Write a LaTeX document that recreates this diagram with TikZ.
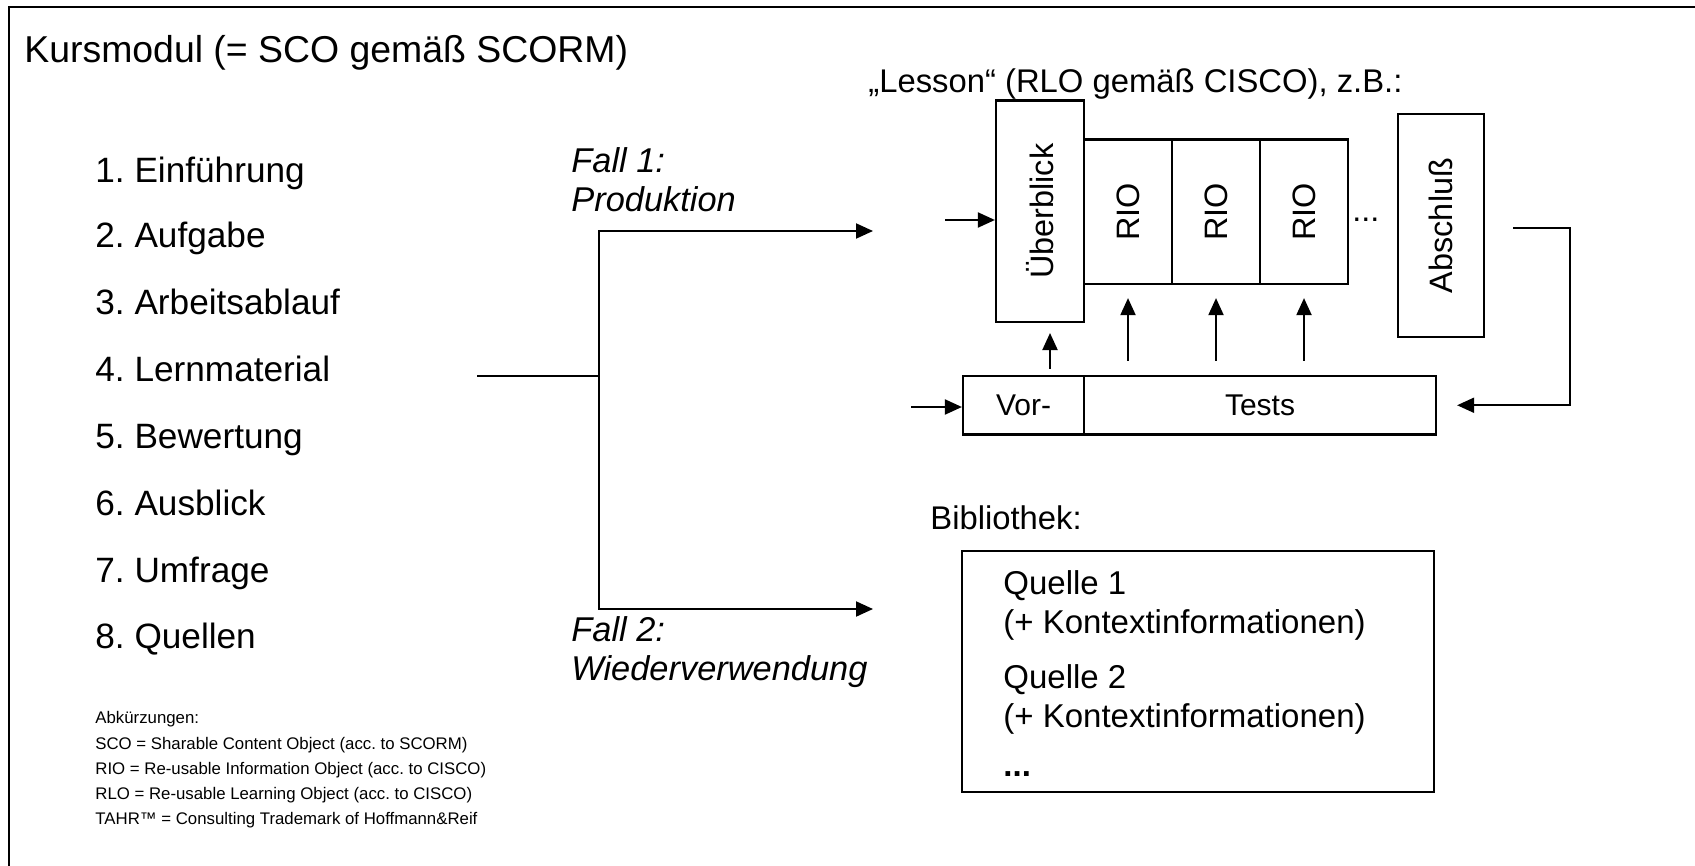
\documentclass[tikz,border=0pt]{standalone}
\usepackage{fontspec}
\setmainfont{Liberation Sans}
\usepackage{graphicx}
\usetikzlibrary{arrows.meta}
\frenchspacing
\begin{document}
\frenchspacing
\begin{tikzpicture}[x=0.5pt,y=-0.5pt,
  box/.style={draw, line width=1.1pt, inner sep=0pt, rectangle},
  ln/.style={line width=1pt},
  arr/.style={line width=1pt, -{Triangle[length=8.5pt,width=7.5pt]}},
  titlefont/.style={inner sep=0pt, font=\fontsize{18.7}{22}\selectfont},
  itemfont/.style={inner sep=0pt, font=\fontsize{17.6}{21}\selectfont},
  fallfont/.style={inner sep=0pt, align=left, font=\fontsize{17.2}{19.5}\selectfont\itshape},
  labfont/.style={inner sep=0pt, font=\fontsize{16.4}{19}\selectfont},
  boxfont/.style={font=\fontsize{15}{18}\selectfont},
  rotfont/.style={font=\fontsize{16.2}{18}\selectfont},
  qfont/.style={inner sep=0pt, align=left, font=\fontsize{16.5}{19.2}\selectfont},
  abbrfont/.style={inner sep=0pt, align=left, font=\fontsize{8.4}{12.6}\selectfont}
]
\useasboundingbox (0,0) rectangle (1695,866);
% frame
\draw[line width=1.2pt] (9,866) -- (9,7) -- (1695,7);
% title
\node[titlefont, anchor=base west] (title) at (24,63) {Kursmodul (= SCO gemäß SCORM)};
% list
\node[itemfont, anchor=mid west] (l1) at (95,177.5) {1. Einführung};
\node[itemfont, anchor=mid west] (l2) at (95,242.5) {2. Aufgabe};
\node[itemfont, anchor=mid west] (l3) at (95,309.5) {3. Arbeitsablauf};
\node[itemfont, anchor=mid west] (l4) at (95,376.5) {4. Lernmaterial};
\node[itemfont, anchor=mid west] (l5) at (95,443.5) {5. Bewertung};
\node[itemfont, anchor=mid west] (l6) at (95,510.5) {6. Ausblick};
\node[itemfont, anchor=mid west] (l7) at (95,577.5) {7. Umfrage};
\node[itemfont, anchor=mid west] (l8) at (95,643.5) {8. Quellen};
% abbreviations
\node[abbrfont, anchor=west] (abk) at (95,770) {Abkürzungen:\\SCO = Sharable Content Object (acc. to SCORM)\\RIO = Re-usable Information Object (acc. to CISCO)\\RLO = Re-usable Learning Object (acc. to CISCO)\\TAHR™ = Consulting Trademark of Hoffmann\&Reif};
% branch
\coordinate (src) at (477,376);
\coordinate (split) at (599,376);
\coordinate (c1) at (873,231);
\coordinate (c2) at (873,609);
\draw[ln] (src) -- (split);
\draw[arr] (split) |- (c1);
\draw[arr] (split) |- (c2);
\node[fallfont, anchor=west] (f1) at (571,179.5) {Fall 1:\\Produktion};
\node[fallfont, anchor=west] (f2) at (571,652) {Fall 2:\\Wiederverwendung};
% lesson
\node[labfont, anchor=mid west] (lesson) at (868,87) {„Lesson“ (RLO gemäß CISCO), z.B.:};
\node[box, rotfont, minimum width=44pt, minimum height=110.75pt] (ueb) at (1040,211.25) {\rotatebox{90}{Überblick}};
\node[box, rotfont, minimum width=44pt, minimum height=72.25pt] (rio1) at (1128,211.75) {\rotatebox{90}{RIO}};
\node[box, rotfont, minimum width=44pt, minimum height=72.25pt] (rio2) at (1216,211.75) {\rotatebox{90}{RIO}};
\node[box, rotfont, minimum width=44pt, minimum height=72.25pt] (rio3) at (1304,211.75) {\rotatebox{90}{RIO}};
\node[rotfont, inner sep=0pt, anchor=base west] (dots) at (1352,221) {...};
\node[box, rotfont, minimum width=43pt, minimum height=111.5pt] (absch) at (1441,225.5) {\rotatebox{90}{Abschluß}};
\node[box, boxfont, minimum width=60.5pt, minimum height=29.25pt] (vor) at (1023.5,405.25) {Vor-};
\node[box, boxfont, minimum width=176pt, minimum height=29.25pt] (tests) at (1260,405.25) {Tests};
% lesson arrows
\coordinate (inU) at (945,220);
\draw[arr] (inU) -- (inU -| ueb.west);
\coordinate (inV) at (911,407);
\draw[arr] (inV) -- (inV -| vor.west);
\coordinate (tt) at ([yshift=7pt]tests.north);
\coordinate (tu) at ([yshift=3pt]vor.north);
\coordinate (a0) at (1050,333);
\draw[arr] (tu -| a0) -- (a0);
\foreach \r in {rio1,rio2,rio3} {
  \draw[arr] (tt -| \r.south) -- ([yshift=-6.5pt]\r.south);
}
\coordinate (r0) at (1513,228);
\coordinate (rv) at (1570,228);
\coordinate (rend) at ([xshift=10pt]tests.east);
\draw[arr] (r0) -- (rv) |- (rend);
% library
\node[labfont, anchor=mid west] (bibl) at (930,524) {Bibliothek:};
\node[box, minimum width=236pt, minimum height=120.5pt] (bib) at (1198,671.5) {};
\node[qfont, anchor=west] (q1) at (1003,605.5) {Quelle 1\\(+ Kontextinformationen)};
\node[qfont, anchor=west] (q2) at (1003,699.5) {Quelle 2\\(+ Kontextinformationen)};
\node[qfont, anchor=base west] (qd) at (1003,776) {\textbf{...}};
\end{tikzpicture}
\end{document}
